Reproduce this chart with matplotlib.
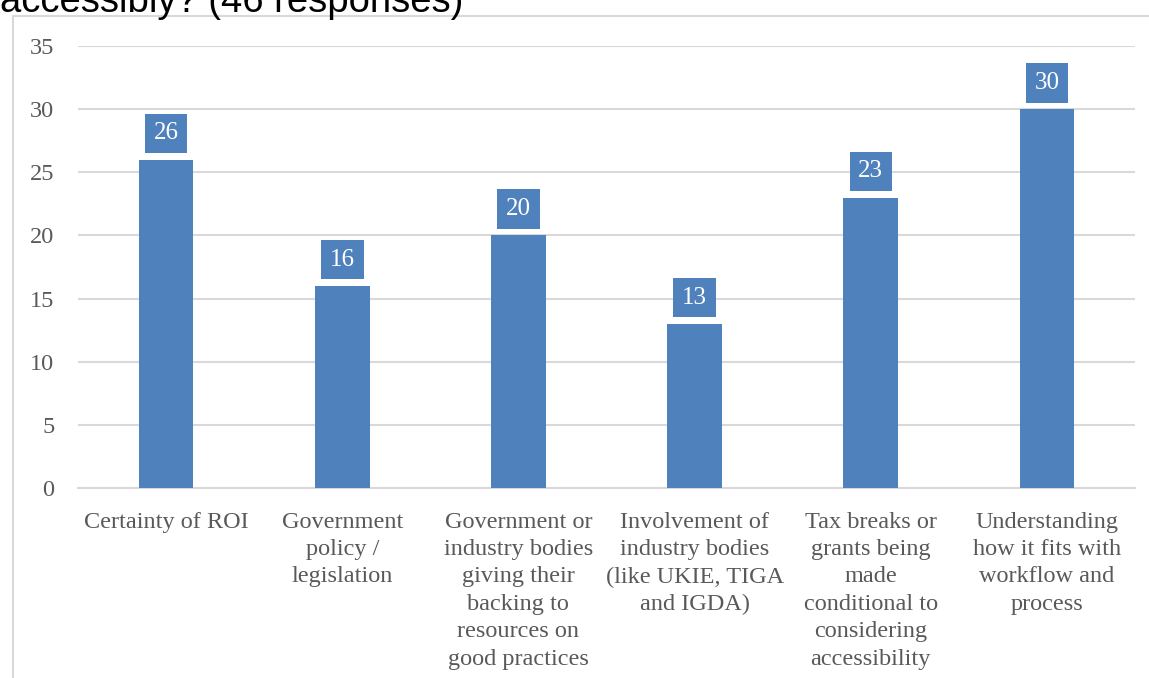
import numpy as np
import matplotlib.pyplot as plt
from matplotlib.patches import Rectangle

categories = [
    "Certainty of ROI",
    "Government\npolicy /\nlegislation",
    "Government or\nindustry bodies\ngiving their\nbacking to\nresources on\ngood practices",
    "Involvement of\nindustry bodies\n(like UKIE, TIGA\nand IGDA)",
    "Tax breaks or\ngrants being\nmade\nconditional to\nconsidering\naccessibility",
    "Understanding\nhow it fits with\nworkflow and\nprocess",
]
values = [26, 16, 20, 13, 23, 30]
title = "accessibly? (46 responses)"

bar_color = '#4F81BD'
grid_color = '#D9D9D9'
text_color = '#595959'

fig = plt.figure(figsize=(11.49, 6.78), dpi=100)

# chart frame, cut off by the image edges
fig.patches.append(Rectangle((12.5 / 1149, -0.1), 1.2, 1.1 - 16 / 678,
                             transform=fig.transFigure, fill=False,
                             edgecolor=grid_color, linewidth=1.5))

# title, clipped at the top
fig.text(0.0 / 1149, 1 - 12 / 678, title, fontsize=27.5,
         family='Liberation Sans', color='black', va='baseline', ha='left')

ax = fig.add_axes([78 / 1149, 1 - 488 / 678, (1135 - 78) / 1149, (488 - 46) / 678])
x = np.arange(len(categories))
ax.bar(x, values, width=0.31, color=bar_color, zorder=3)

ax.set_ylim(0, 35)
ax.set_xlim(-0.5, len(categories) - 0.5)
ax.set_yticks(np.arange(0, 36, 5))
ax.yaxis.grid(True, color=grid_color, linewidth=1.5, zorder=0)
ax.set_axisbelow(True)
for s in ['top', 'right', 'left']:
    ax.spines[s].set_visible(False)
ax.spines['bottom'].set_color(grid_color)
ax.spines['bottom'].set_linewidth(1.5)

ax.set_xticks(x)
ax.set_xticklabels(categories, family='Liberation Serif', fontsize=17.5,
                   color=text_color, va='top', ha='center')
for lab in ax.get_xticklabels():
    lab.set_linespacing(1.40)
for lab in ax.get_yticklabels():
    lab.set_family('Liberation Serif')
    lab.set_fontsize(17.5)
    lab.set_color(text_color)
ax.tick_params(axis='x', length=0, pad=17)
ax.tick_params(axis='y', length=0, pad=17)

for xi, v in zip(x, values):
    ax.annotate(str(v), (xi, v), xytext=(0, 11), textcoords='offset points',
                ha='center', va='bottom', color='white', fontsize=18,
                family='Liberation Serif',
                bbox=dict(boxstyle='square,pad=0.35', facecolor=bar_color,
                          edgecolor='none'))

fig.savefig('out.png', dpi=100)
